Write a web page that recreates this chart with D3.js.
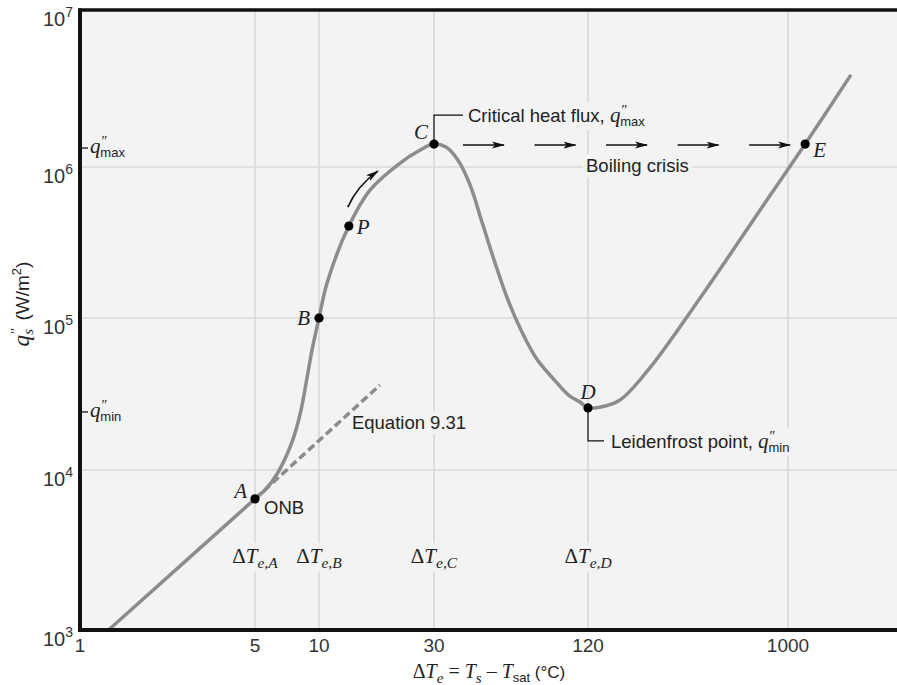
<!DOCTYPE html>
<html lang="en">
<head>
<meta charset="UTF-8" />
<script src="https://d3js.org/d3.v7.min.js"></script>
<title>Boiling curve</title>
<style>
  body { margin: 0; background: #fff; }
  svg { display: block; }
</style>
</head>
<body>
<script>
// boiling curve (schematic log-log)
const curveDT = [1.3, 5, 5.63, 6.35, 7.47, 8.23, 8.78, 9.27, 10, 10.8, 13.3, 16.3, 21.7, 26.2, 30,
  33.4, 37.2, 41.5, 46.2, 52.0, 58.4, 66.2, 75.8, 87.6, 101, 111.7, 120,
  136, 168.5, 227, 394, 800, 1200, 1950];
const curveQ = [1000, 6600, 7610, 9440, 15300, 24800, 40300, 61500, 1e5, 170600, 406000, 705000, 1.06e6, 1.28e6, 1.4e6,
  1.34e6, 1.108e6, 7.61e5, 4.32e5, 2.31e5, 1.315e5, 81000, 53500, 40000, 31000, 28000, 25600,
  25900, 28900, 45500, 135700, 604000, 1.4e6, 3.86e6];

const eqDT = [5, 17.9];
const eqQ = [6600, 36200];

const pointNames = ["A", "B", "P", "C", "D", "E"];
const pointDT = [5, 10, 13.3, 30, 120, 1200];
const pointQ = [6600, 1e5, 406000, 1.4e6, 25600, 1.4e6];

const xTickValues = [1, 5, 10, 30, 120, 1000];
const yTickExp = [3, 4, 5, 6, 7];
const qMax = 1.32e6, qMin = 24100;
const dtLabelValues = [5, 10, 30, 120];
const dtLabelSubs = ["e,A", "e,B", "e,C", "e,D"];

const serif = '"Liberation Serif", "DejaVu Serif", serif';
const sans = '"Liberation Sans", Arial, sans-serif';
const ink = "#222";
const plotBg = "#f3f3f3";

const W = 897, H = 685;
const svg = d3.select("body").append("svg").attr("width", W).attr("height", H);

// the original is hand-drawn, so the decades are not evenly spaced
const x = d3.scaleLog()
  .domain([1, 5, 10, 30, 120, 1000, 3180])
  .range([80, 255, 319, 434, 588, 788, 897]);
const y = d3.scaleLog()
  .domain([1e3, 1e4, 1e5, 1e6, 1e7])
  .range([630, 470, 318, 167, 10]);

const defs = svg.append("defs");
defs.append("marker").attr("id", "head")
  .attr("markerUnits", "userSpaceOnUse")
  .attr("markerWidth", 13).attr("markerHeight", 8)
  .attr("refX", 12).attr("refY", 4).attr("orient", "auto")
  .append("path").attr("d", "M0,0.5 L13,4 L0,7.5 L3,4 z").attr("fill", "#111");

// plot area
svg.append("rect").attr("x", 80).attr("y", 10).attr("width", W - 80).attr("height", 620).attr("fill", plotBg);

const grid = svg.append("g").attr("stroke", "#d8d8d8").attr("stroke-width", 1.6);
grid.selectAll("line.v").data(xTickValues.slice(1)).join("line").attr("class", "v")
  .attr("x1", d => x(d)).attr("x2", d => x(d)).attr("y1", 10).attr("y2", 630);
grid.selectAll("line.h").data([1e4, 1e5, 1e6]).join("line").attr("class", "h")
  .attr("x1", 80).attr("x2", W).attr("y1", d => y(d)).attr("y2", d => y(d));

// rich text helper: parts = [{t, serif, it, size, dy, dx}]
function rich(g, parts, size, anchor) {
  const t = g.append("text").attr("text-anchor", anchor || "start").attr("fill", ink);
  let shift = 0;
  parts.forEach(p => {
    const ts = t.append("tspan").text(p.t)
      .attr("font-family", p.serif ? serif : sans)
      .attr("font-style", p.it ? "italic" : "normal")
      .attr("font-size", p.size || size);
    const target = p.dy || 0;
    if (target !== shift) { ts.attr("dy", target - shift); shift = target; }
    if (p.dx) ts.attr("dx", p.dx);
  });
  return t;
}
function withBg(t, pad) {
  const b = t.node().getBBox();
  d3.select(t.node().parentNode).insert("rect", () => t.node())
    .attr("x", b.x - pad).attr("y", b.y - 1).attr("width", b.width + 2 * pad).attr("height", b.height + 2)
    .attr("fill", plotBg);
  return t;
}
const qPrime = (sub) => [
  { t: "q", serif: true, it: true, size: 21 },
  { t: "″", serif: true, size: 14, dy: -7, dx: 1 },
  { t: sub, size: 13, dy: 4, dx: -7 }
];

const ann = svg.append("g");

// ΔT labels on the grid lines
dtLabelValues.forEach((v, i) => {
  const t = rich(ann, [
    { t: "Δ", serif: true },
    { t: "T", serif: true, it: true },
    { t: dtLabelSubs[i], serif: true, it: true, size: 15.5, dy: 5 }
  ], 21, "middle").attr("x", x(v)).attr("y", 563);
  withBg(t, 3);
});

const pC = [x(pointDT[3]), y(pointQ[3])];
const pD = [x(pointDT[4]), y(pointQ[4])];
const pE = [x(pointDT[5]), y(pointQ[5])];
const eqEnd = [x(eqDT[1]), y(eqQ[1])];

withBg(rich(ann, [{ t: "Critical heat flux, " }].concat(qPrime("max")), 18.5)
  .attr("x", pC[0] + 34).attr("y", pC[1] - 22), 3);
withBg(rich(ann, [{ t: "Boiling crisis" }], 18.5).attr("x", pC[0] + 152).attr("y", pC[1] + 28), 3);
withBg(rich(ann, [{ t: "Leidenfrost point, " }].concat(qPrime("min")), 18.5)
  .attr("x", pD[0] + 23).attr("y", pD[1] + 40), 3);
withBg(rich(ann, [{ t: "Equation 9.31" }], 18.5).attr("x", eqEnd[0] - 28).attr("y", eqEnd[1] + 44), 3);
rich(ann, [{ t: "ONB" }], 18.5).attr("x", x(pointDT[0]) + 9).attr("y", y(pointQ[0]) + 15);

// leaders
ann.append("path").attr("fill", "none").attr("stroke", "#111").attr("stroke-width", 1.2)
  .attr("d", `M${pC[0]},${pC[1]}V${pC[1] - 29}H${pC[0] + 29}`);
ann.append("path").attr("fill", "none").attr("stroke", "#111").attr("stroke-width", 1.2)
  .attr("d", `M${pD[0]},${pD[1]}V${pD[1] + 33}H${pD[0] + 16}`);

// Equation 9.31 (dashed) and the boiling curve
const line = d3.line().x(d => x(d[0])).y(d => y(d[1]));
svg.append("path").datum(d3.zip(eqDT, eqQ)).attr("d", line)
  .attr("fill", "none").attr("stroke", "#8c8c8c").attr("stroke-width", 3.5).attr("stroke-dasharray", "8,4");
svg.append("path").datum(d3.zip(curveDT, curveQ)).attr("d", line.curve(d3.curveCatmullRom.alpha(0.5)))
  .attr("fill", "none").attr("stroke", "#8c8c8c").attr("stroke-width", 3.5);

// boiling crisis arrows from C to E
const arrows = svg.append("g").attr("stroke", "#111").attr("stroke-width", 1.6);
d3.range(5).forEach(i => {
  const x0 = pC[0] + 29 + i * ((pE[0] - pC[0] - 85) / 4);
  arrows.append("line").attr("x1", x0).attr("x2", x0 + 41).attr("y1", pC[1] + 1).attr("y2", pC[1] + 1)
    .attr("marker-end", "url(#head)");
});
// curved arrow past P
const pP = [x(pointDT[2]), y(pointQ[2])];
arrows.append("path").attr("fill", "none")
  .attr("d", `M${pP[0] - 1},${pP[1] - 19} Q${pP[0] + 8},${pP[1] - 40} ${pP[0] + 29},${pP[1] - 55}`)
  .attr("marker-end", "url(#head)");

// points
svg.selectAll("circle.pt").data(pointNames).join("circle").attr("class", "pt")
  .attr("cx", (d, i) => x(pointDT[i])).attr("cy", (d, i) => y(pointQ[i])).attr("r", 4.6).attr("fill", "#000");
const labelOff = { A: [-8, -1, "end"], B: [-9, 7, "end"], P: [8, 8, "start"], C: [-6, -5, "end"], D: [0, -9, "middle"], E: [8, 13, "start"] };
pointNames.forEach((n, i) => {
  const o = labelOff[n];
  svg.append("text").text(n).attr("x", x(pointDT[i]) + o[0]).attr("y", y(pointQ[i]) + o[1])
    .attr("text-anchor", o[2]).attr("font-family", serif).attr("font-style", "italic")
    .attr("font-size", 21).attr("fill", ink);
});

// frame
const frame = svg.append("g").attr("stroke", "#111").attr("fill", "none");
frame.append("line").attr("x1", 78).attr("x2", W).attr("y1", 10).attr("y2", 10).attr("stroke-width", 3.5);
frame.append("line").attr("x1", 80).attr("x2", 80).attr("y1", 8.5).attr("y2", 632).attr("stroke-width", 4);
frame.append("line").attr("x1", 78).attr("x2", W).attr("y1", 630).attr("y2", 630).attr("stroke-width", 4);

// y tick labels
yTickExp.forEach(e => {
  const t = svg.append("text").attr("x", 73).attr("y", y(Math.pow(10, e)) + 16)
    .attr("text-anchor", "end").attr("font-family", sans).attr("font-size", 20).attr("fill", "#333");
  t.append("tspan").text("10");
  t.append("tspan").text(e).attr("font-size", 14).attr("dy", -9);
});
// q''max / q''min ticks
[[qMax, "max"], [qMin, "min"]].forEach(([v, s]) => {
  svg.append("line").attr("x1", 80).attr("x2", 88).attr("y1", y(v)).attr("y2", y(v))
    .attr("stroke", "#111").attr("stroke-width", 1.3);
  rich(svg, qPrime(s), 18).attr("x", 90).attr("y", y(v) + 5);
});

// x tick labels
svg.selectAll("text.xt").data(xTickValues).join("text").attr("class", "xt")
  .attr("x", d => x(d)).attr("y", 652).attr("text-anchor", "middle")
  .attr("font-family", sans).attr("font-size", 19).attr("fill", "#333").text(d => d);

// axis titles
rich(svg, [
  { t: "Δ", serif: true },
  { t: "T", serif: true, it: true },
  { t: "e", serif: true, it: true, size: 15, dy: 5 },
  { t: " = ", serif: true },
  { t: "T", serif: true, it: true },
  { t: "s", serif: true, it: true, size: 15, dy: 5 },
  { t: " – ", serif: true },
  { t: "T", serif: true, it: true },
  { t: "sat", size: 13, dy: 4 },
  { t: " (°C)", size: 17 }
], 20, "middle").attr("x", 489).attr("y", 678);

rich(svg, [
  { t: "q", serif: true, it: true, size: 23 },
  { t: "″", serif: true, size: 15, dy: -8, dx: 1 },
  { t: "s", serif: true, it: true, size: 15, dy: 4, dx: -7 },
  { t: " (W/m", size: 19, dx: 3 },
  { t: "2", size: 13, dy: -8 },
  { t: ")", size: 19 }
], 20, "middle").attr("transform", "translate(29,304) rotate(-90)");
</script>
</body>
</html>
